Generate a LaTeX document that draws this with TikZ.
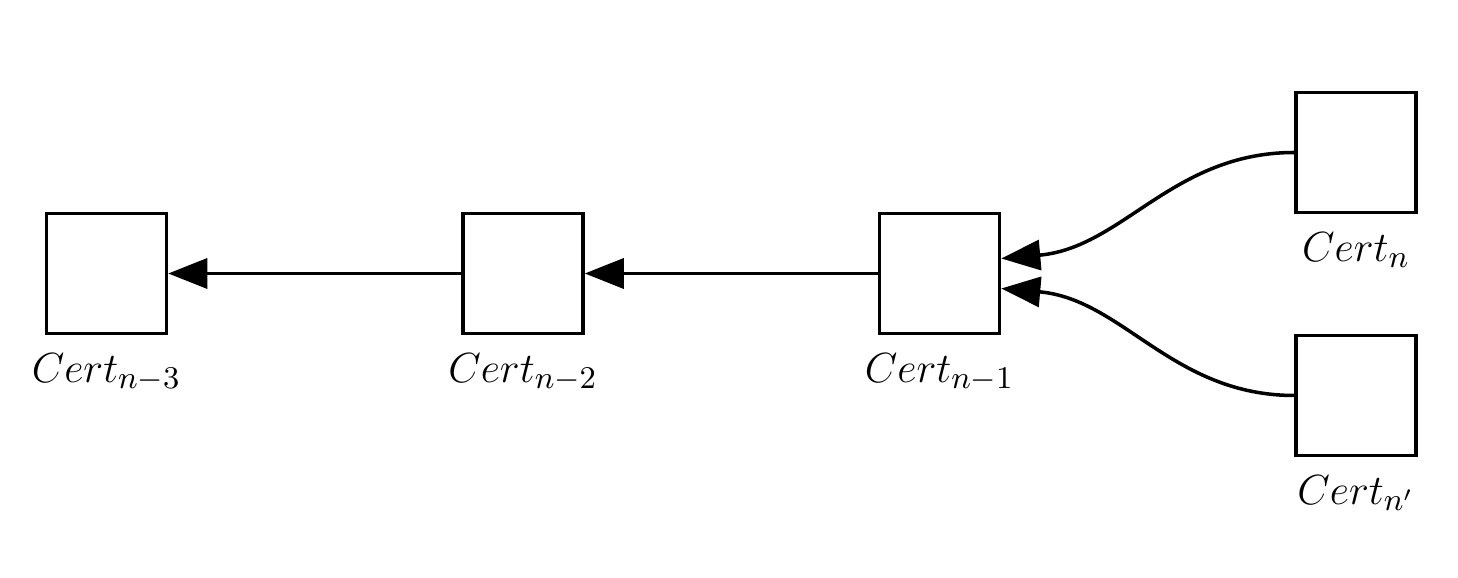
\documentclass[tikz,border=0pt]{standalone}
\usepackage{tikz}
\usetikzlibrary{arrows.meta, positioning, calc}

\begin{document}
\begin{tikzpicture}[
  cert/.style={rectangle, draw, line width=1pt, minimum size=1.2cm, inner sep=0pt},
  certname/.style={font=\fontsize{13}{15}\selectfont},
  arr/.style={-{Triangle[length=3.9mm, width=3mm]}, line width=1pt}
]
\useasboundingbox (0,0) rectangle (14.58,5.78);

% Nodes
\node[cert] (n3) at (1.065,3.045) {};
\node[cert, right=2.93cm of n3] (n2) {};
\node[cert, right=2.93cm of n2] (n1) {};
\node[cert, right=2.93cm of n1, yshift=1.21cm] (n) {};
\node[cert, right=2.93cm of n1, yshift=-1.22cm] (np) {};

% Names
\node[certname, below=0.6mm of n3] (t3) {$Cert_{n-3}$};
\node[certname, below=0.6mm of n2] (t2) {$Cert_{n-2}$};
\node[certname, below=0.6mm of n1] (t1) {$Cert_{n-1}$};
\node[certname, below=0.6mm of n] (t) {$Cert_{n}$};
\node[certname, below=0.6mm of np] (tp) {$Cert_{n'}$};

% Arrows
\draw[arr] (n2) -- (n3);
\draw[arr] (n1) -- (n2);
\draw[arr] (n.west) to[out=180, in=5] ([yshift=1.5mm]n1.east);
\draw[arr] (np.west) to[out=180, in=-5] ([yshift=-1.5mm]n1.east);

\end{tikzpicture}
\end{document}
